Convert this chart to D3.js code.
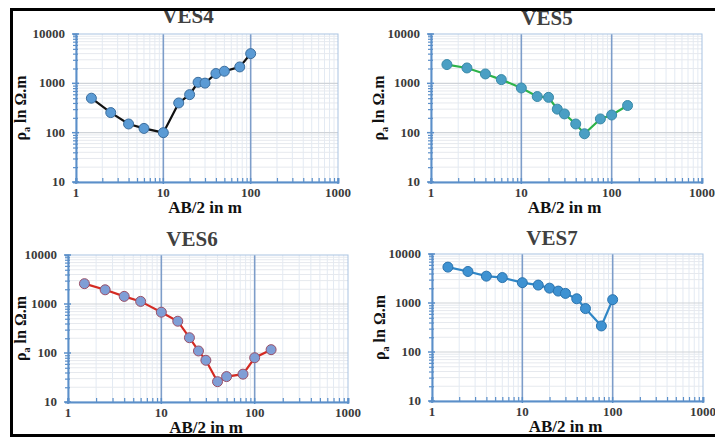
<!DOCTYPE html>
<html>
<head>
<meta charset="utf-8">
<script src="https://cdn.jsdelivr.net/npm/d3@7"></script>
<style>
  body { margin: 0; background: #fff; }
  svg { display: block; }
</style>
</head>
<body>
<div class="chart"></div>
<script>
var svgWidth = 715;
var svgHeight = 438;
var serif = "'Liberation Serif', 'Times New Roman', Tinos, serif";

// AB/2 spacings (m) and apparent resistivity (ohm.m)
var ves4AB  = [1.5, 2.5, 4, 6, 10, 15, 20, 25, 30, 40, 50, 75, 100];
var ves4Rho = [500, 255, 150, 122, 100, 400, 590, 1050, 1010, 1580, 1760, 2150, 4000];

var ves5AB  = [1.5, 2.5, 4, 6, 10, 15, 20, 25, 30, 40, 50, 75, 100, 150];
var ves5Rho = [2400, 2050, 1550, 1190, 805, 540, 520, 300, 240, 150, 95, 190, 228, 355];

var ves6AB  = [1.5, 2.5, 4, 6, 10, 15, 20, 25, 30, 40, 50, 75, 100, 150];
var ves6Rho = [2600, 1950, 1430, 1130, 680, 445, 205, 110, 71, 26, 33, 37, 80, 117];

var ves7AB  = [1.5, 2.5, 4, 6, 10, 15, 20, 25, 30, 40, 50, 75, 100];
var ves7Rho = [5400, 4400, 3530, 3300, 2600, 2320, 2010, 1750, 1570, 1220, 770, 340, 1170];

var xTicks = [1, 10, 100, 1000];
var yTicks = [10, 100, 1000, 10000];

var svg = d3.select(".chart")
  .append("svg")
  .attr("width", svgWidth)
  .attr("height", svgHeight);

// panel boxes (plot area in page pixels) and their styling
var panels = [
  { name: "VES4", ab: ves4AB, rho: ves4Rho, x0: 76,  x1: 338, y0: 34,  y1: 182, titleX: 188, titleY: 23, yTitleX: 21, xTitleDy: 31,
    line: "#111111", fill: "#5b9bd5", stroke: "#3c6e9e" },
  { name: "VES5", ab: ves5AB, rho: ves5Rho, x0: 431, x1: 702, y0: 34,  y1: 182, titleX: 547, titleY: 25, yTitleX: 379, xTitleDy: 31,
    line: "#2db34a", fill: "#4a9fc4", stroke: "#3a8aa8" },
  { name: "VES6", ab: ves6AB, rho: ves6Rho, x0: 68,  x1: 348, y0: 255, y1: 402, titleX: 192, titleY: 246, yTitleX: 21, xTitleDy: 31,
    line: "#d42a22", fill: "#7f9ed6", stroke: "#9a5068" },
  { name: "VES7", ab: ves7AB, rho: ves7Rho, x0: 432, x1: 703, y0: 254, y1: 401, titleX: 552, titleY: 245, yTitleX: 380, xTitleDy: 31,
    line: "#2f86c6", fill: "#3e92d2", stroke: "#2c74ae" }
];

function minors(lo, hi) {
  var out = [];
  for (var d = lo; d < hi; d *= 10) {
    for (var k = 2; k <= 9; k++) out.push(d * k);
  }
  return out;
}

function label(sel, size, color) {
  return sel.style("font-family", serif)
    .style("font-weight", "bold")
    .style("font-size", size + "px")
    .style("fill", color);
}

panels.forEach(function (p) {
  var x = d3.scaleLog().domain([1, 1000]).range([p.x0, p.x1]);
  var y = d3.scaleLog().domain([10, 10000]).range([p.y1, p.y0]);
  var g = svg.append("g");

  var xMin = minors(1, 1000);
  var yMin = minors(10, 10000);

  // minor grid
  g.selectAll(".vmin").data(xMin).enter().append("line")
    .attr("x1", d => x(d)).attr("x2", d => x(d))
    .attr("y1", p.y0).attr("y2", p.y1)
    .attr("stroke", "#e3eaf3").attr("stroke-width", 1);
  g.selectAll(".hmin").data(yMin).enter().append("line")
    .attr("x1", p.x0).attr("x2", p.x1)
    .attr("y1", d => y(d)).attr("y2", d => y(d))
    .attr("stroke", "#e6e9ee").attr("stroke-width", 1);

  // major grid
  g.selectAll(".hmaj").data([100, 1000]).enter().append("line")
    .attr("x1", p.x0).attr("x2", p.x1)
    .attr("y1", d => y(d)).attr("y2", d => y(d))
    .attr("stroke", "#cfd3d8").attr("stroke-width", 1.2);
  g.selectAll(".vmaj").data([10, 100]).enter().append("line")
    .attr("x1", d => x(d)).attr("x2", d => x(d))
    .attr("y1", p.y0).attr("y2", p.y1)
    .attr("stroke", "#7d9dc9").attr("stroke-width", 1.6);

  // plot frame
  g.append("rect")
    .attr("x", p.x0).attr("y", p.y0)
    .attr("width", p.x1 - p.x0).attr("height", p.y1 - p.y0)
    .attr("fill", "none").attr("stroke", "#a9c3e2").attr("stroke-width", 1);

  // axes
  var bottomAxis = d3.axisBottom(x).tickValues(xMin).tickSize(-4).tickFormat("");
  var leftAxis = d3.axisLeft(y).tickValues(yMin).tickSize(3).tickFormat("");

  var bx = g.append("g").attr("transform", `translate(0, ${p.y1})`).call(bottomAxis);
  var ly = g.append("g").attr("transform", `translate(${p.x0}, 0)`).call(leftAxis);
  [bx, ly].forEach(function (a) {
    a.select(".domain").attr("stroke", "#5b8fc9").attr("stroke-width", 2);
    a.selectAll(".tick line").attr("stroke", "#5b8fc9").attr("stroke-width", 1.2);
  });
  ly.selectAll(".tick line").attr("x1", 2);

  // major tick marks
  g.selectAll(".xmt").data(xTicks).enter().append("line")
    .attr("x1", d => x(d)).attr("x2", d => x(d))
    .attr("y1", p.y1 - 4).attr("y2", p.y1 + 2)
    .attr("stroke", "#5b8fc9").attr("stroke-width", 1.5);
  g.selectAll(".ymt").data(yTicks).enter().append("line")
    .attr("x1", p.x0 - 4).attr("x2", p.x0 + 3)
    .attr("y1", d => y(d)).attr("y2", d => y(d))
    .attr("stroke", "#5b8fc9").attr("stroke-width", 1.5);

  // tick labels
  label(g.selectAll(".xl").data(xTicks).enter().append("text"), 13, "#3a3a3a")
    .attr("x", d => x(d)).attr("y", p.y1 + 15)
    .attr("text-anchor", "middle")
    .text(d => d);
  label(g.selectAll(".yl").data(yTicks).enter().append("text"), 13, "#3a3a3a")
    .attr("x", p.x0 - 11).attr("y", d => y(d) + 4)
    .attr("text-anchor", "end")
    .text(d => d);

  // titles
  label(g.append("text"), 21, "#404040")
    .attr("x", p.titleX).attr("y", p.titleY)
    .attr("text-anchor", "middle").text(p.name);

  label(g.append("text"), 17, "#111")
    .attr("x", (p.x0 + p.x1) / 2 - 2).attr("y", p.y1 + p.xTitleDy)
    .attr("text-anchor", "middle").text("AB/2 in m");

  var yt = label(g.append("text"), 16, "#111")
    .attr("transform", `translate(${p.yTitleX + 5}, ${(p.y0 + p.y1) / 2}) rotate(-90)`)
    .attr("text-anchor", "middle");
  yt.append("tspan").text("ρ");
  yt.append("tspan").attr("dy", 4).style("font-size", "10px").text("a");
  yt.append("tspan").attr("dy", -4).text(" ln Ω.m");

  // curve and points
  var pts = p.ab.map((a, i) => [a, p.rho[i]]);
  var line = d3.line().x(d => x(d[0])).y(d => y(d[1]));
  g.append("path").datum(pts)
    .attr("d", line)
    .attr("fill", "none")
    .attr("stroke", p.line)
    .attr("stroke-width", 2.2);

  g.selectAll(".pt").data(pts).enter().append("circle")
    .attr("cx", d => x(d[0]))
    .attr("cy", d => y(d[1]))
    .attr("r", 5)
    .attr("fill", p.fill)
    .attr("stroke", p.stroke)
    .attr("stroke-width", 1);
});

// black frame around the figure
svg.append("line").attr("x1", 10).attr("x2", 715).attr("y1", 9.5).attr("y2", 9.5)
  .attr("stroke", "#000").attr("stroke-width", 3);
svg.append("line").attr("x1", 11.5).attr("x2", 11.5).attr("y1", 8).attr("y2", 437)
  .attr("stroke", "#000").attr("stroke-width", 3);
svg.append("line").attr("x1", 10).attr("x2", 715).attr("y1", 435.5).attr("y2", 435.5)
  .attr("stroke", "#000").attr("stroke-width", 3);
</script>
</body>
</html>
